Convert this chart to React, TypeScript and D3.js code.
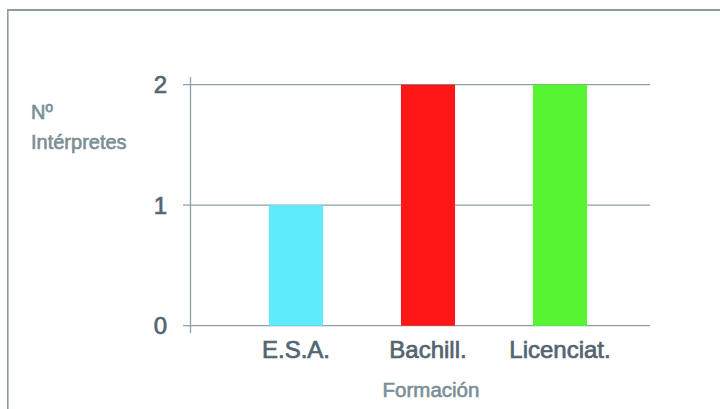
import React from "react";
import * as d3 from "d3";

const categories = ["E.S.A.", "Bachill.", "Licenciat."];
const values = [1, 2, 2];
const barColors = ["#5eebfc", "#ff1616", "#57f531"];
const yTicks = [0, 1, 2];
const yTitleLines = ["Nº", "Intérpretes"];
const xTitle = "Formación";

const W = 720;
const H = 409;
const FONT = "'Liberation Sans', Arial, Helvetica, sans-serif";
const gridColor = "#8d9fa7";
const labelColor = "#536571";
const titleColor = "#7a8e95";

export default function App() {
  const y = d3.scaleLinear().domain([0, 2]).range([325.7, 84.7]);
  const x = d3
    .scaleBand<string>()
    .domain(categories)
    .range([230, 626])
    .paddingInner(0.59)
    .paddingOuter(0.295);

  const axisX = 190.5;
  const gridLeft = 183;
  const gridRight = 650;

  return (
    <div style={{ position: "absolute", left: 0, top: 0 }}>
      <svg width={W} height={H} style={{ display: "block", background: "#fff" }}>
        {/* frame */}
        <line x1={7} x2={W} y1={10} y2={10} stroke="#8a9ba4" strokeWidth={2} />
        <line x1={7.8} x2={7.8} y1={9} y2={H} stroke="#8a9ba4" strokeWidth={1.6} />

        {/* gridlines with ticks */}
        {yTicks.map((t) => (
          <line
            key={"g" + t}
            x1={gridLeft}
            x2={gridRight}
            y1={y(t)}
            y2={y(t)}
            stroke={gridColor}
            strokeWidth={1.3}
          />
        ))}
        <line x1={axisX} x2={axisX} y1={77} y2={333} stroke={gridColor} strokeWidth={1.3} />

        {/* bars */}
        {categories.map((c, i) => (
          <rect
            key={c}
            x={x(c)}
            y={y(values[i])}
            width={x.bandwidth()}
            height={y(0) - y(values[i])}
            fill={barColors[i]}
          />
        ))}

        {/* y tick labels */}
        {yTicks.map((t) => (
          <text
            key={"t" + t}
            x={167}
            y={y(t) + 8.5}
            textAnchor="end"
            fontFamily={FONT}
            fontSize={24}
            fill={labelColor}
            stroke={labelColor}
            strokeWidth={0.7}
          >
            {t}
          </text>
        ))}

        {/* x category labels */}
        {categories.map((c) => (
          <text
            key={"l" + c}
            x={(x(c) as number) + x.bandwidth() / 2}
            y={358}
            textAnchor="middle"
            fontFamily={FONT}
            fontSize={24}
            fill={labelColor}
            stroke={labelColor}
            strokeWidth={0.7}
          >
            {c}
          </text>
        ))}

        {/* axis titles */}
        {yTitleLines.map((line, i) => (
          <text
            key={"yt" + i}
            x={31}
            y={119 + i * 29.5}
            fontFamily={FONT}
            fontSize={20}
            fill={titleColor}
            stroke={titleColor}
            strokeWidth={0.6}
          >
            {line}
          </text>
        ))}
        <text
          x={431}
          y={397}
          textAnchor="middle"
          fontFamily={FONT}
          fontSize={20.5}
          fill={titleColor}
          stroke={titleColor}
          strokeWidth={0.6}
        >
          {xTitle}
        </text>
      </svg>
    </div>
  );
}
